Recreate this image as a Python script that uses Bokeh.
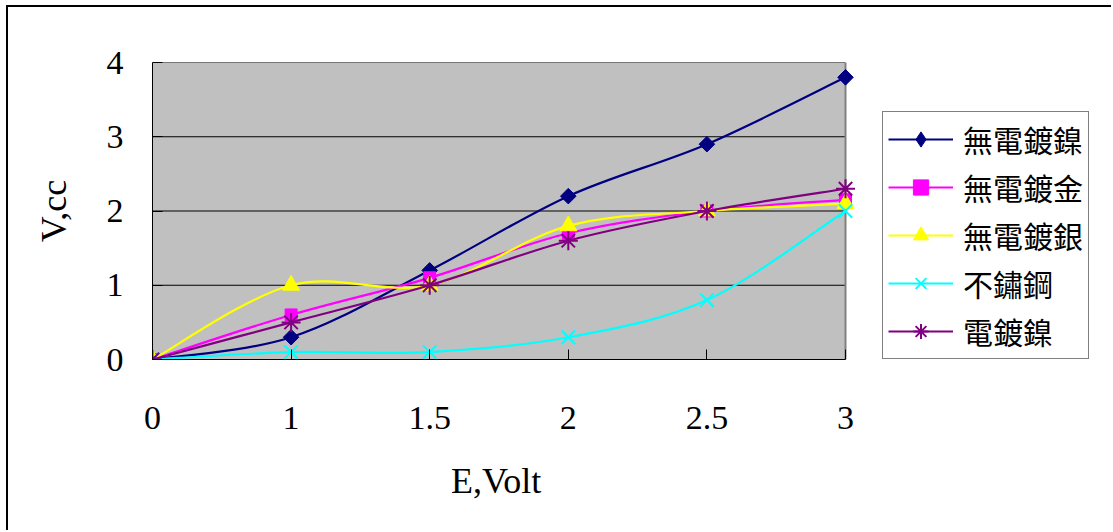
import numpy as np
from bokeh.plotting import figure
from bokeh.models import (FixedTicker, Legend, LegendItem, Range1d, ColumnDataSource,
                          BoxAnnotation, Title)
from bokeh.embed import file_html
from bokeh.resources import INLINE

# Applied voltage (category labels on the x axis)
voltage_labels = ["0", "1", "1.5", "2", "2.5", "3"]

# Gas volume (cc) collected for each electrode material
electroless_ni = [0, 0.3, 1.2, 2.2, 2.9, 3.8]
electroless_au = [0, 0.6, 1.1, 1.7, 2.0, 2.15]
electroless_ag = [0, 1.0, 1.0, 1.8, 2.0, 2.1]
stainless = [0, 0.1, 0.1, 0.3, 0.8, 2.0]
electroplated_ni = [0, 0.5, 1.0, 1.6, 2.0, 2.3]

series_names = ["無電鍍鎳", "無電鍍金", "無電鍍銀", "不鏽鋼", "電鍍鎳"]
y_ticks = [0, 1, 2, 3, 4]
y_max = 4


def smooth_segments(values):
    """Cubic Bezier segments through the points (Catmull-Rom style tangents)."""
    ys = np.asarray(values, dtype=float)
    xs = np.arange(len(ys), dtype=float)
    n = len(ys) - 1
    px = np.concatenate([[xs[0]], xs, [xs[-1]]])
    py = np.concatenate([[ys[0]], ys, [ys[-1]]])
    return dict(
        x0=xs[:-1], y0=ys[:-1], x1=xs[1:], y1=ys[1:],
        cx0=xs[:-1] + (px[2:n + 2] - px[0:n]) / 6.0,
        cy0=ys[:-1] + (py[2:n + 2] - py[0:n]) / 6.0,
        cx1=xs[1:] - (px[3:n + 3] - px[1:n + 1]) / 6.0,
        cy1=ys[1:] - (py[3:n + 3] - py[1:n + 1]) / 6.0,
    )


# layout: the frame also holds the legend to the right of the grey plot area
fig_w, fig_h = 1105, 525
left_pad, top_pad, bottom_pad = 144, 55, 173
plot_w = 693                      # width of the grey plot area
frame_w = fig_w - left_pad - 2    # frame reaches (almost) to the right edge
x_last = len(voltage_labels) - 1
x_end = x_last * frame_w / plot_w

p = figure(
    width=fig_w, height=fig_h,
    x_range=Range1d(0, x_end), y_range=Range1d(0, y_max),
    output_backend="svg", toolbar_location=None,
    min_border_left=left_pad, min_border_right=fig_w - left_pad - frame_w,
    min_border_top=top_pad, min_border_bottom=bottom_pad,
    background_fill_color="white", border_fill_color="white",
)
p.styles = {
    "margin-left": "6px", "margin-top": "5px",
    "border-left": "2px solid black", "border-top": "2px solid black",
}
p.outline_line_color = None
p.grid.visible = False

# grey plot area
p.add_layout(BoxAnnotation(left=0, right=x_last, bottom=0, top=y_max,
                           fill_color="#C0C0C0", fill_alpha=1, line_color=None,
                           level="underlay"))

serif = "Liberation Serif"

p.xaxis.ticker = FixedTicker(ticks=list(range(len(voltage_labels))))
p.xaxis.major_label_overrides = {i: lab for i, lab in enumerate(voltage_labels)}
p.xaxis.bounds = (0, x_last)
p.yaxis.ticker = FixedTicker(ticks=y_ticks)
for ax in (p.xaxis, p.yaxis):
    ax.major_tick_in = 10
    ax.major_tick_out = 0
    ax.minor_tick_line_color = None
    ax.axis_line_color = "black"
    ax.major_tick_line_color = "black"
    ax.major_label_text_font = serif
    ax.major_label_text_font_size = "34px"
    ax.major_label_text_color = "black"
    ax.axis_label_text_font = serif
    ax.axis_label_text_font_size = "36px"
    ax.axis_label_text_font_style = "normal"
    ax.axis_label_text_color = "black"

p.xaxis.major_label_standoff = 47
p.yaxis.axis_label = "V,cc"
p.yaxis.major_label_standoff = 29
p.yaxis.axis_label_standoff = 30

# x axis title, centred under the grey plot area
x_title = Title(text="E,Volt", align="left", offset=plot_w / 2 - 48,
                standoff=54, text_font=serif, text_font_size="36px",
                text_font_style="normal", text_color="black")
p.add_layout(x_title, "below")

# horizontal gridlines and the grey right edge of the plot area
grid_y = y_ticks[1:]
p.segment(x0=[0] * len(grid_y), x1=[x_last] * len(grid_y), y0=grid_y, y1=grid_y,
          line_color="black", line_width=1)
p.segment(x0=[x_last], x1=[x_last], y0=[0], y1=[y_max],
          line_color="#808080", line_width=2)

xs = list(range(len(voltage_labels)))
# (values, colour, markers drawn on the plot, markers shown in the legend only)
styles = [
    (electroless_ni, "#000080",
     [dict(marker="square", size=11, angle=np.pi / 4)], [dict(marker="diamond", size=18)]),
    (electroless_au, "#FF00FF", [dict(marker="square", size=12)], []),
    (electroless_ag, "#FFFF00", [dict(marker="triangle", size=17)], []),
    (stainless, "#00FFFF", [dict(marker="x", size=19, line_width=2)], []),
    (electroplated_ni, "#800080", [dict(marker="asterisk", size=19, line_width=2)], []),
]

items = []
for name, (vals, color, marks, legend_marks) in zip(series_names, styles):
    src = ColumnDataSource(smooth_segments(vals))
    curve = p.bezier(x0="x0", y0="y0", x1="x1", y1="y1", cx0="cx0", cy0="cy0",
                     cx1="cx1", cy1="cy1", source=src, line_color=color, line_width=2.2)
    rends = [curve]
    shown = []
    for m in marks + legend_marks:
        m = dict(m)
        lw = m.pop("line_width", 1)
        r = p.scatter(xs, vals, fill_color=color, line_color=color, line_width=lw, **m)
        shown.append(r)
    n_plot = len(marks)
    for r in shown[n_plot:]:
        r.visible = False
    if legend_marks:
        rends += shown[n_plot:]
    else:
        rends += shown
    items.append(LegendItem(label=name, renderers=rends))

legend = Legend(
    items=items, location=(plot_w + 37, 0),
    label_text_font="Noto Sans CJK TC", label_text_font_size="30px",
    label_text_color="black",
    glyph_width=65, glyph_height=38, spacing=4, padding=5, label_standoff=10,
    border_line_color="black", border_line_width=1,
    background_fill_color="white", background_fill_alpha=1, margin=0,
)
p.add_layout(legend)

open("out.html", "w").write(file_html(p, INLINE))
